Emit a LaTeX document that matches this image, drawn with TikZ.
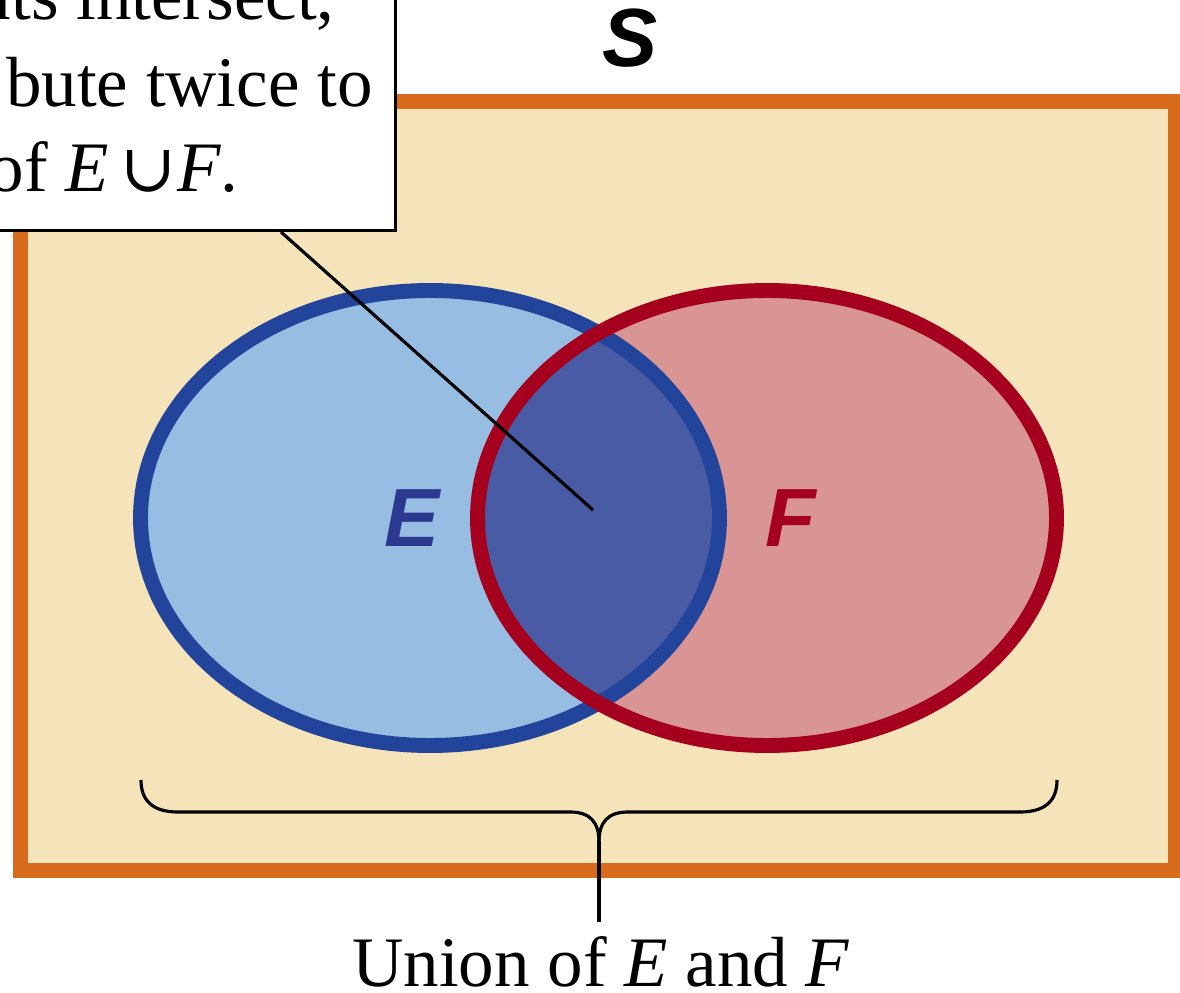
\documentclass[tikz,border=0pt]{standalone}
\usepackage{fontspec}
\setmainfont{Liberation Serif}
\newfontfamily\hvfont{Liberation Sans}
\newfontfamily\cupfont{DejaVu Serif}
\definecolor{borderorange}{HTML}{D96B1C}
\definecolor{sand}{HTML}{F5E3BA}
\definecolor{Eblue}{HTML}{22449B}
\definecolor{Efill}{HTML}{97BDE3}
\definecolor{Fred}{HTML}{A5001E}
\definecolor{Ffill}{HTML}{D99594}
\definecolor{EFfill}{HTML}{4A5BA5}
\definecolor{Elabel}{HTML}{2B3990}
\begin{document}
\begin{tikzpicture}[x=0.02cm,y=-0.02cm,
  serif/.style={font=\fontsize{40.4}{48}\selectfont, inner sep=0pt},
  setlab/.style={font=\hvfont\bfseries\itshape\fontsize{47}{47}\selectfont, inner sep=0pt},
  setedge/.style={line width=8.5pt},
  thinline/.style={line width=1.8pt, black}]
\clip (0,0) rectangle (1180,993);
\fill[white] (0,0) rectangle (1180,993);
% sample space
\draw[borderorange, fill=sand, line width=8.5pt] (20.5,101.5) rectangle (1175.5,870.5);
\node[setlab] (S) at (630,38) {S};
% sets
\fill[Efill] (430,518) ellipse [x radius=289.5, y radius=227.5];
\fill[Ffill] (767,518) ellipse [x radius=289.5, y radius=227.5];
\begin{scope}
  \clip (430,518) ellipse [x radius=289.5, y radius=227.5];
  \fill[EFfill] (767,518) ellipse [x radius=289.5, y radius=227.5];
\end{scope}
\draw[setedge, Eblue] (430,518) ellipse [x radius=289.5, y radius=227.5];
\draw[setedge, Fred] (767,518) ellipse [x radius=289.5, y radius=227.5];
\node[setlab, text=Elabel] (Elab) at (412,518) {E};
\node[setlab, text=Fred] (Flab) at (791,518) {F};
% callout
\node[draw=black, fill=white, line width=1.8pt, minimum width=8.6cm, minimum height=5.4cm, anchor=south east, inner sep=0pt] (callout) at (397,232) {};
\node[serif, anchor=base east] (c1) at (335,20) {nts intersect,};
\node[serif, anchor=base east] (c2) at (373,107) {bute twice to};
\node[serif, anchor=base east] (c3) at (239,192) {of \textit{E}\hspace{0.16em}{\cupfont\fontsize{38}{40}\selectfont ∪}\hspace{0.02em}\textit{F}.};
\coordinate (lead) at (281,232);
\coordinate (hit) at (593,510);
\draw[thinline] (lead) -- (hit);
% brace
\coordinate (bl) at (141,780);
\coordinate (br) at (1057,780);
\coordinate (cusp) at (599,842);
\coordinate (stem) at (599,922);
\draw[thinline] (bl) .. controls (141,800) and (152,812) .. (178,812) -- (570,812) .. controls (590,812) and (599,822) .. (cusp);
\draw[thinline] (br) .. controls (1057,800) and (1046,812) .. (1020,812) -- (628,812) .. controls (608,812) and (599,822) .. (cusp);
\draw[thinline] (cusp) -- (stem);
\node[serif, anchor=base] (union) at (601,986) {Union of \textit{E} and \textit{F}};
\end{tikzpicture}
\end{document}
